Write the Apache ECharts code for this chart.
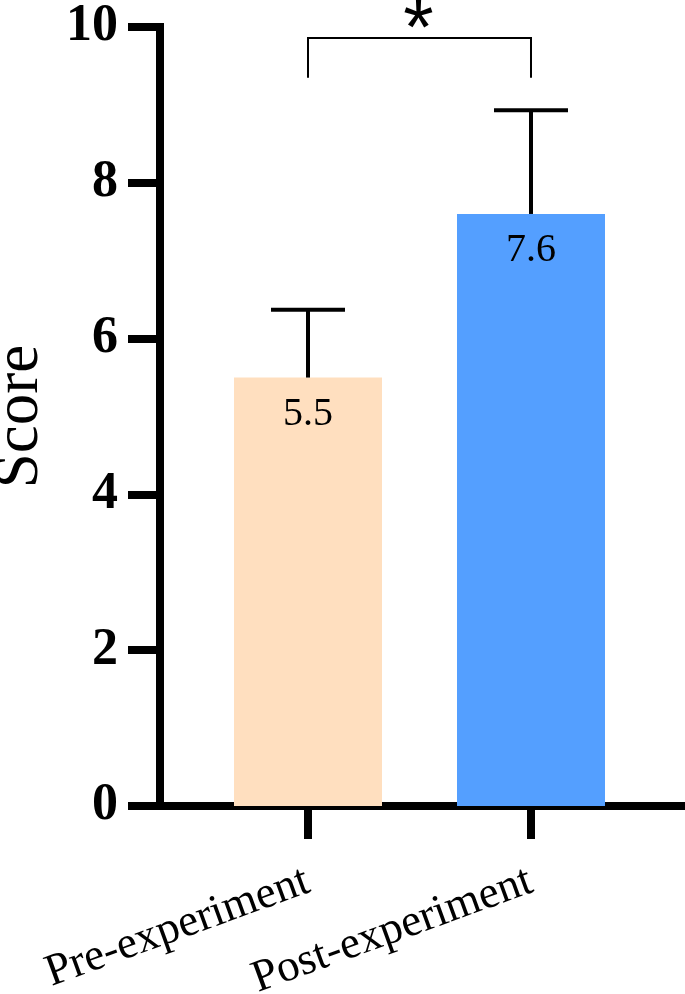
<!DOCTYPE html>
<html lang="en">
<head>
    <meta charset="UTF-8">
    <title>Score</title>
    <script src="https://cdn.jsdelivr.net/npm/echarts@6/dist/echarts.min.js"></script>
    <style>html, body { margin: 0; padding: 0; background: #fff; }</style>
</head>
<body>
    <div id="main" style="width: 685px;height:994px;"></div>
    <script type="text/javascript">
        // data
        var categories = ['Pre-experiment', 'Post-experiment'];
        var positions = [1, 2];           // x slot of each bar
        var scores = [5.5, 7.6];          // bar heights
        var errorTops = [6.37, 8.93];     // upper end of each error bar
        var barColors = ['#FFDFBF', '#549FFF'];
        var yTicks = [0, 2, 4, 6, 8, 10];
        var bracketEnds = [1, 2];         // bracket spans these two slots
        var bracketLevels = [9.35, 9.86]; // leg bottom, bracket top
        var bracketMark = '*';

        var serif = 'Liberation Serif, Times New Roman, serif';

        var barData = positions.map(function (x, i) {
            return { value: [x, scores[i]], itemStyle: { color: barColors[i] } };
        });
        var errData = positions.map(function (x, i) {
            return [x, scores[i], errorTops[i]];
        });

        var myChart = echarts.init(document.getElementById('main'));
        var option = {
            animation: false,
            textStyle: { fontFamily: serif },
            grid: { left: 160, right: 0, top: 27, bottom: 188, outerBoundsMode: 'none', containLabel: false },
            xAxis: {
                type: 'value',
                min: 0.3363,
                max: 2.6906,
                splitLine: { show: false },
                axisLine: { lineStyle: { color: '#000', width: 8 } },
                axisTick: {
                    show: true, length: 33, customValues: positions,
                    lineStyle: { color: '#000', width: 8 }
                },
                axisLabel: {
                    customValues: positions,
                    rotate: 20,
                    margin: 74,
                    color: '#000',
                    fontFamily: serif,
                    fontSize: 45,
                    formatter: function (v) { return categories[Math.round(v) - 1] || ''; }
                }
            },
            yAxis: {
                type: 'value',
                min: yTicks[0],
                max: yTicks[yTicks.length - 1],
                interval: 2,
                name: 'Score',
                nameLocation: 'middle',
                nameRotate: 90,
                nameGap: 108,
                nameTextStyle: { color: '#000', fontFamily: serif, fontSize: 63 },
                splitLine: { show: false },
                axisLine: { show: true, lineStyle: { color: '#000', width: 8, cap: 'square' } },
                axisTick: { show: true, length: 32, lineStyle: { color: '#000', width: 8 } },
                axisLabel: {
                    margin: 42,
                    color: '#000',
                    fontFamily: serif,
                    fontWeight: 'bold',
                    fontSize: 52
                }
            },
            series: [
                {
                    type: 'bar',
                    barWidth: 148,
                    data: barData,
                    label: {
                        show: true,
                        position: 'insideTop',
                        distance: 17,
                        color: '#000',
                        fontFamily: serif,
                        fontSize: 40,
                        formatter: function (p) { return p.value[1].toFixed(1); }
                    }
                },
                {
                    // error bars: stem from bar top plus a cap
                    type: 'custom',
                    data: errData,
                    z: 3,
                    renderItem: function (params, api) {
                        var lo = api.coord([api.value(0), api.value(1)]);
                        var hi = api.coord([api.value(0), api.value(2)]);
                        var half = 37;
                        return {
                            type: 'group',
                            children: [
                                { type: 'line', shape: { x1: lo[0], y1: lo[1], x2: hi[0], y2: hi[1] },
                                  style: { stroke: '#000', lineWidth: 4 } },
                                { type: 'line', shape: { x1: hi[0] - half, y1: hi[1], x2: hi[0] + half, y2: hi[1] },
                                  style: { stroke: '#000', lineWidth: 4 } }
                            ]
                        };
                    }
                },
                {
                    // significance bracket
                    type: 'custom',
                    data: [[bracketEnds[0], bracketEnds[1], bracketLevels[0], bracketLevels[1]]],
                    clip: false,
                    z: 3,
                    renderItem: function (params, api) {
                        var a = api.coord([api.value(0), api.value(2)]);
                        var b = api.coord([api.value(0), api.value(3)]);
                        var c = api.coord([api.value(1), api.value(3)]);
                        var d = api.coord([api.value(1), api.value(2)]);
                        return {
                            type: 'group',
                            children: [
                                { type: 'polyline', shape: { points: [a, b, c, d] },
                                  style: { stroke: '#000', lineWidth: 2, fill: null } },
                                { type: 'text', x: (b[0] + c[0]) / 2 - 1, y: b[1] + 34,
                                  style: { text: bracketMark, fill: '#000', fontSize: 78,
                                           fontFamily: 'Liberation Sans, Arial, sans-serif',
                                           align: 'center', verticalAlign: 'bottom' } }
                            ]
                        };
                    }
                }
            ]
        };

        myChart.setOption(option);
    </script>
</body>
</html>
